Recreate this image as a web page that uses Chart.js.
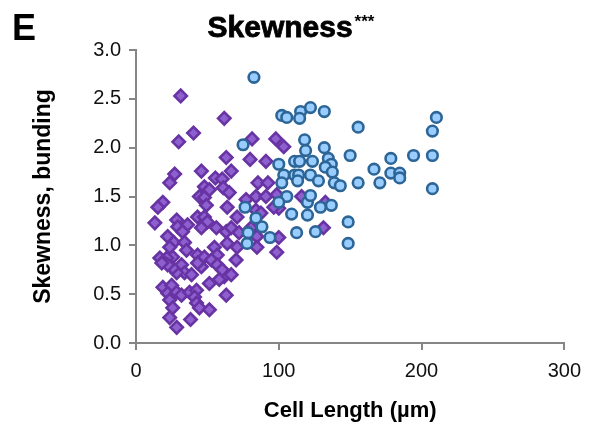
<!DOCTYPE html>
<html>
<head>
<meta charset="utf-8">
<script src="https://cdn.jsdelivr.net/npm/chart.js@4/dist/chart.umd.min.js"></script>
<style>
  html, body { margin: 0; padding: 0; background: #fff; }
  #wrap { width: 590px; height: 426px; position: relative; }
</style>
</head>
<body>
<div id="wrap"><canvas id="skewChart"></canvas></div>
<script>
// Blue circles (longer cells)
const blueLength = [82.6, 102.1, 105.6, 115.3, 114.6, 122.2, 131.9, 155.6, 210.4, 207.6,
    75.0, 118.1, 118.8, 131.9, 150.0, 134.7, 136.8, 132.6, 137.5, 100.0,
    111.1, 114.6, 123.6, 103.5, 111.1, 113.9, 113.2, 122.2, 127.8, 102.1,
    138.9, 143.1, 155.6, 166.7, 178.5, 178.5, 184.7, 184.7, 170.8, 194.4,
    207.6, 207.6, 105.6, 100.0, 120.1, 122.2, 129.2, 136.8, 109.0, 120.1,
    148.6, 88.2, 112.5, 125.7, 93.8, 148.6, 76.4, 84.0, 78.5, 77.8];
const blueSkew = [2.72, 2.33, 2.31, 2.37, 2.30, 2.41, 2.37, 2.21, 2.31, 2.17,
    2.03, 2.08, 1.97, 2.00, 1.92, 1.89, 1.83, 1.80, 1.75, 1.83,
    1.86, 1.86, 1.86, 1.72, 1.72, 1.72, 1.66, 1.72, 1.66, 1.64,
    1.64, 1.61, 1.64, 1.78, 1.89, 1.74, 1.74, 1.69, 1.64, 1.92,
    1.92, 1.58, 1.50, 1.44, 1.44, 1.51, 1.39, 1.41, 1.32, 1.31,
    1.24, 1.19, 1.13, 1.14, 1.08, 1.02, 1.39, 1.28, 1.13, 1.02];

// Purple diamonds (shorter cells)
const purpleLength = [31.3, 61.8, 40.3, 29.9, 81.3, 97.9, 103.5, 63.2, 79.9, 91.0,
    45.8, 66.7, 27.1, 23.6, 55.6, 60.4, 85.4, 92.4, 47.9, 51.4,
    61.1, 65.3, 44.4, 18.8, 15.3, 77.1, 84.0, 91.0, 98.6, 116.0,
    132.6, 100.0, 131.3, 63.9, 47.9, 49.3, 13.2, 28.5, 29.2, 36.1,
    32.6, 43.1, 47.9, 50.0, 45.8, 56.3, 63.2, 66.7, 72.2, 70.8,
    84.0, 87.5, 96.5, 80.6, 22.2, 26.4, 23.6, 34.0, 35.4, 25.7,
    21.5, 16.7, 54.9, 56.9, 43.1, 47.9, 52.8, 56.9, 45.8, 43.1,
    70.1, 63.9, 70.8, 84.7, 84.7, 100.0, 98.6, 31.9, 34.0, 38.9,
    28.5, 25.7, 22.2, 18.1, 61.8, 66.7, 51.4, 58.3, 60.4, 18.8,
    25.0, 22.2, 28.5, 31.9, 37.5, 42.4, 41.0, 23.6, 25.7, 42.4,
    44.4, 51.4, 63.2, 23.6, 28.5, 38.2];
const purpleSkew = [2.53, 2.30, 2.15, 2.06, 2.09, 2.09, 2.01, 1.90, 1.88, 1.86,
    1.76, 1.76, 1.73, 1.64, 1.69, 1.68, 1.64, 1.64, 1.60, 1.57,
    1.59, 1.54, 1.50, 1.44, 1.39, 1.47, 1.50, 1.50, 1.52, 1.50,
    1.44, 1.38, 1.18, 1.39, 1.49, 1.41, 1.23, 1.26, 1.19, 1.21,
    1.14, 1.29, 1.29, 1.24, 1.18, 1.18, 1.14, 1.18, 1.13, 1.29,
    1.36, 1.33, 1.39, 1.18, 1.09, 1.03, 0.98, 1.03, 0.95, 0.88,
    0.87, 0.87, 0.98, 0.90, 0.90, 0.88, 0.85, 0.80, 0.78, 0.82,
    0.85, 1.02, 0.98, 1.09, 0.98, 1.08, 0.93, 0.80, 0.72, 0.70,
    0.72, 0.77, 0.80, 0.82, 0.68, 0.70, 0.61, 0.65, 0.75, 0.57,
    0.59, 0.51, 0.52, 0.49, 0.52, 0.54, 0.47, 0.44, 0.36, 0.41,
    0.36, 0.34, 0.49, 0.26, 0.16, 0.24];

const xTicks = [0, 100, 200, 300];
const yTicks = [0, 0.5, 1, 1.5, 2, 2.5, 3];

function toPoints(xs, ys) {
    return xs.map((x, i) => ({ x: x, y: ys[i] }));
}

const FONT = "'Liberation Sans', Arial, sans-serif";
const AXIS_GREY = '#868686';

// Panel letter and the title with its superscript stars
const headerPlugin = {
    id: 'header',
    afterDraw(chart) {
        const ctx = chart.ctx;
        ctx.save();
        ctx.fillStyle = '#000';
        ctx.textBaseline = 'alphabetic';
        ctx.font = 'bold 36px ' + FONT;
        ctx.fillText('E', 12, 40);

        ctx.font = 'bold 30px ' + FONT;
        const main = 'Skewness';
        const w1 = ctx.measureText(main).width;
        ctx.font = 'bold 17px ' + FONT;
        const w2 = ctx.measureText('***').width;
        const left = 291 - (w1 + w2 + 2) / 2;
        ctx.font = 'bold 30px ' + FONT;
        ctx.lineWidth = 0.8;
        ctx.strokeStyle = '#000';
        ctx.fillText(main, left, 37);
        ctx.strokeText(main, left, 37);
        ctx.font = 'bold 17px ' + FONT;
        ctx.fillText('***', left + w1 + 2, 27);
        ctx.restore();
    }
};

new Chart(document.getElementById('skewChart'), {
    type: 'scatter',
    data: {
        datasets: [
            {
                label: 'Long cells',
                data: toPoints(blueLength, blueSkew),
                pointStyle: 'circle',
                pointRadius: 5.3,
                pointBorderWidth: 2.6,
                backgroundColor: '#99ccff',
                borderColor: '#2c6596'
            },
            {
                label: 'Short cells',
                data: toPoints(purpleLength, purpleSkew),
                pointStyle: 'rectRot',
                pointRadius: 6.2,
                pointBorderWidth: 2.6,
                backgroundColor: '#8e5fcf',
                borderColor: '#6833a3'
            }
        ]
    },
    options: {
        responsive: true,
        maintainAspectRatio: false,
        animation: false,
        layout: { padding: { top: 50, right: 20, bottom: 0, left: 0 } },
        plugins: {
            legend: { display: false },
            tooltip: { enabled: false }
        },
        scales: {
            x: {
                type: 'linear',
                min: 0,
                max: 300,
                afterFit: scale => { scale.height = 83; },
                afterBuildTicks: scale => { scale.ticks = xTicks.map(v => ({ value: v })); },
                grid: { drawOnChartArea: false, drawTicks: true, tickLength: 7, color: AXIS_GREY, lineWidth: 2 },
                border: { display: true, color: AXIS_GREY, width: 2 },
                ticks: {
                    color: '#111',
                    padding: 9,
                    font: { size: 20, family: FONT },
                    maxRotation: 0
                },
                title: {
                    display: true,
                    text: 'Cell Length (µm)',
                    color: '#000',
                    font: { size: 22, weight: 'bold', family: FONT },
                    padding: { top: 0, bottom: 2 }
                }
            },
            y: {
                type: 'linear',
                min: 0,
                max: 3,
                afterFit: scale => { scale.width = 136; },
                afterBuildTicks: scale => { scale.ticks = yTicks.map(v => ({ value: v })); },
                grid: { drawOnChartArea: false, drawTicks: true, tickLength: 7, color: AXIS_GREY, lineWidth: 2 },
                border: { display: true, color: AXIS_GREY, width: 2 },
                ticks: {
                    color: '#111',
                    padding: 8,
                    font: { size: 20, family: FONT },
                    callback: v => Number(v).toFixed(1)
                },
                title: {
                    display: true,
                    text: 'Skewness, bunding',
                    color: '#000',
                    font: { size: 23, weight: 'bold', family: FONT },
                    padding: { top: 30, bottom: 0 }
                }
            }
        }
    },
    plugins: [headerPlugin]
});
</script>
</body>
</html>
